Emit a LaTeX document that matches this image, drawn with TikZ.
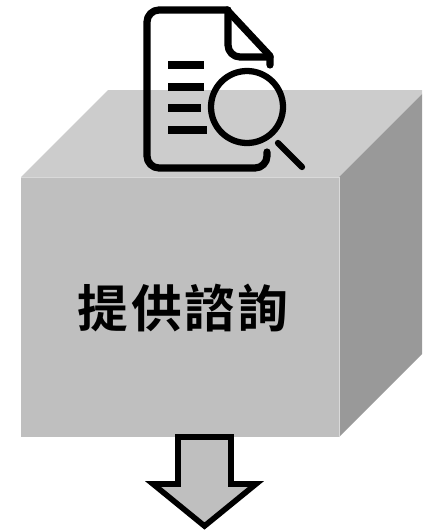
\documentclass[tikz,border=0pt]{standalone}
\usepackage{fontspec}
\newfontfamily\cjk[LetterSpace=5]{Noto Sans CJK TC Bold}
\definecolor{cfront}{HTML}{BFBFBF}
\definecolor{ctop}{HTML}{CCCCCC}
\definecolor{cside}{HTML}{999999}
\definecolor{cedge}{HTML}{D9D9D9}
\tikzset{
  icon/.style={draw=black,line width=5.4pt,line cap=round,line join=round},
  lens/.style={draw=black,line width=4.7pt,line cap=round},
  iconbar/.style={draw=black,line width=5.6pt},
  arrowshape/.style={draw=black,fill=cfront,line width=4.2pt,miter limit=10},
}
\begin{document}
\begin{tikzpicture}[x=0.75pt,y=-0.75pt]
\useasboundingbox (0,0) rectangle (422,532);
\begin{scope}
\clip (0,0) rectangle (422,532);
\fill[ctop] (21,177) -- (108,90) -- (426,90) -- (339,177) -- cycle;
\fill[cside] (339,177) -- (426,90) -- (426,350) -- (339,437) -- cycle;
\fill[cfront] (21,177) rectangle (339,437);
\draw[cedge,line width=0.75pt] (21,177) -- (339,177) -- (339,437);
\end{scope}
\node[font=\cjk,text=black] (label) at (183,308) {\fontsize{38}{46}\selectfont 提供諮詢};
% document icon
\draw[icon,rounded corners=9pt] (267,152) -- (267,168) -- (147,168) -- (147,10) -- (227,10);
\draw[icon] (227,10) -- (270,56) -- (270,65);
\draw[icon,rounded corners=9pt] (228,10) -- (228,57) -- (270,57);
\foreach \ye/\xe in {65/204,87/204,108/201,130/207}
  \draw[iconbar] (168,\ye) -- (\xe,\ye);
\draw[lens] (247,107) circle[radius=36];
\draw[lens] (278,143) -- (302,167);
% arrow
\draw[arrowshape] (178,437) -- (231,437) -- (231,484) -- (256,484) -- (204.5,526) -- (153,484) -- (178,484) -- cycle;
\end{tikzpicture}
\end{document}
